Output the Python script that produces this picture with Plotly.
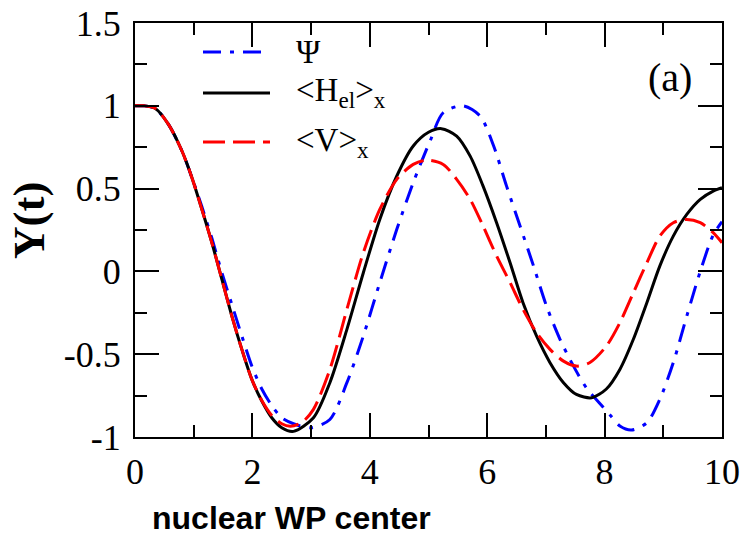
import plotly.graph_objects as go

# ---- data ----
x_psi = [0, 0.15, 0.34, 0.57, 0.8, 0.97, 1.14, 1.31, 1.48, 1.65, 1.82, 1.99, 2.16, 2.33, 2.5, 2.7,
         3.0, 3.32, 3.61, 3.89, 4.17, 4.46, 4.74, 5.03, 5.25, 5.59, 5.88, 6.11, 6.33, 6.56, 6.79,
         7.01, 7.24, 7.47, 7.69, 7.9, 8.1, 8.26, 8.46, 8.72, 8.94, 9.17, 9.4, 9.63, 9.85, 10.0]
y_psi = [1.0, 1.0, 0.985, 0.888, 0.727, 0.566, 0.39, 0.2, -0.008, -0.2, -0.39, -0.571, -0.71, -0.81,
         -0.884, -0.92, -0.944, -0.894, -0.672, -0.39, -0.068, 0.254, 0.536, 0.79, 0.958, 1.0, 0.938,
         0.757, 0.515, 0.274, 0.032, -0.209, -0.41, -0.572, -0.703, -0.79, -0.87, -0.934, -0.958,
         -0.914, -0.773, -0.551, -0.27, 0.0, 0.22, 0.3]

x_hel = [0, 0.15, 0.34, 0.57, 0.8, 0.97, 1.14, 1.31, 1.48, 1.65, 1.82, 1.99, 2.16, 2.33, 2.5, 2.7,
         3.04, 3.32, 3.61, 3.89, 4.17, 4.46, 4.74, 5.0, 5.22, 5.48, 5.71, 5.93, 6.16, 6.39, 6.61,
         6.84, 7.07, 7.3, 7.52, 7.78, 8.03, 8.26, 8.49, 8.72, 8.94, 9.17, 9.4, 9.63, 9.85, 10.0]
y_hel = [1.0, 1.0, 0.985, 0.888, 0.727, 0.566, 0.374, 0.173, -0.048, -0.27, -0.471, -0.652, -0.783,
         -0.884, -0.944, -0.966, -0.884, -0.672, -0.35, -0.008, 0.314, 0.576, 0.757, 0.84, 0.862,
         0.817, 0.696, 0.515, 0.294, 0.052, -0.189, -0.39, -0.551, -0.672, -0.743, -0.763, -0.71,
         -0.592, -0.41, -0.189, 0.032, 0.213, 0.344, 0.435, 0.485, 0.505]

x_v = [0, 0.15, 0.34, 0.57, 0.8, 0.97, 1.14, 1.31, 1.48, 1.65, 1.82, 1.99, 2.16, 2.33, 2.5, 2.65,
       2.85, 3.04, 3.32, 3.61, 3.89, 4.17, 4.46, 4.74, 4.97, 5.25, 5.48, 5.71, 5.93, 6.16, 6.39,
       6.61, 6.84, 7.07, 7.3, 7.52, 7.75, 8.03, 8.26, 8.49, 8.72, 8.94, 9.17, 9.4, 9.63, 9.85, 10.0]
y_v = [1.0, 1.0, 0.985, 0.888, 0.727, 0.566, 0.374, 0.173, -0.048, -0.27, -0.471, -0.652, -0.78,
       -0.87, -0.92, -0.935, -0.91, -0.833, -0.592, -0.229, 0.113, 0.374, 0.556, 0.646, 0.672,
       0.646, 0.556, 0.435, 0.274, 0.093, -0.068, -0.229, -0.37, -0.471, -0.542, -0.572, -0.55,
       -0.451, -0.31, -0.129, 0.052, 0.213, 0.294, 0.314, 0.294, 0.234, 0.173]

x_tickvals = [0, 2, 4, 6, 8, 10]
x_ticktext = ["0", "2", "4", "6", "8", "10"]
y_tickvals = [-1, -0.5, 0, 0.5, 1, 1.5]
y_ticktext = ["-1", "-0.5", "0", "0.5", "1", "1.5"]

legend_labels = ["Ψ", "&lt;H<sub>el</sub>&gt;<sub>x</sub>", "&lt;V&gt;<sub>x</sub>"]

# ---- styles ----
BLUE_DASH = "18px,9px,4px,9px"
RED_DASH = "22px,8px"
W = 3

fig = go.Figure()
fig.add_trace(go.Scatter(x=x_psi, y=y_psi, mode="lines",
                         line=dict(color="#0000ff", width=W, dash=BLUE_DASH, shape="spline", smoothing=0.8),
                         showlegend=False))
fig.add_trace(go.Scatter(x=x_hel, y=y_hel, mode="lines",
                         line=dict(color="#000000", width=W, shape="spline", smoothing=0.8),
                         showlegend=False))
fig.add_trace(go.Scatter(x=x_v, y=y_v, mode="lines",
                         line=dict(color="#ff0000", width=W, dash=RED_DASH, shape="spline", smoothing=0.8),
                         showlegend=False))

L, R, T, B = 135, 722, 23, 437
FW, FH = 743, 542


def px(xp):
    return (xp - L) / (R - L)


def py(yp):
    return (B - yp) / (B - T)


# manual legend (lines + labels)
leg_rows = [(52, "#0000ff", BLUE_DASH), (93, "#000000", "solid"), (142, "#ff0000", RED_DASH)]
for (yy, col, dsh), lab in zip(leg_rows, legend_labels):
    fig.add_shape(type="line", xref="paper", yref="paper",
                  x0=px(203), x1=px(270), y0=py(yy), y1=py(yy),
                  line=dict(color=col, width=W, dash=dsh))
    fig.add_annotation(xref="paper", yref="paper", x=px(294), y=py(yy), xanchor="left",
                       yanchor="middle", text=lab, showarrow=False,
                       font=dict(family="Liberation Serif", size=33, color="black"))

fig.add_annotation(xref="paper", yref="paper", x=px(670), y=py(77), xanchor="center",
                   yanchor="middle", text="(a)", showarrow=False,
                   font=dict(family="Liberation Serif", size=40, color="black"))

fig.add_annotation(xref="paper", yref="paper", x=px(29), y=py(221), xanchor="center",
                   yanchor="middle", text="<b>Y(t)</b>", textangle=-90, showarrow=False,
                   font=dict(family="Liberation Serif", size=45, color="black"))

fig.add_annotation(xref="paper", yref="paper", x=px(150), y=py(518), xanchor="left",
                   yanchor="middle", text="<b>nuclear WP center</b>", showarrow=False,
                   font=dict(family="Liberation Sans", size=32, color="black"))

axis_common = dict(showline=True, linecolor="black", linewidth=2, mirror="ticks",
                   ticks="inside", ticklen=24, tickwidth=2, tickcolor="black",
                   showgrid=False, zeroline=False, automargin=False,
                   tickfont=dict(family="Liberation Serif", size=36, color="black"))

fig.update_xaxes(range=[0, 10], tickvals=x_tickvals, ticktext=x_ticktext,
                 minor=dict(dtick=1, tick0=0, ticks="inside", ticklen=12, tickwidth=2,
                            tickcolor="black", showgrid=False),
                 ticklabelstandoff=2,
                 **axis_common)
fig.update_yaxes(range=[-1, 1.5], tickvals=y_tickvals, ticktext=y_ticktext,
                 minor=dict(dtick=0.25, tick0=0, ticks="inside", ticklen=12, tickwidth=2,
                            tickcolor="black", showgrid=False),
                 ticklabelstandoff=5,
                 **axis_common)

fig.update_layout(width=FW, height=FH, margin=dict(l=L, r=FW - R, t=T, b=FH - B),
                  plot_bgcolor="white", paper_bgcolor="white", showlegend=False)

fig.write_html("out.html")
